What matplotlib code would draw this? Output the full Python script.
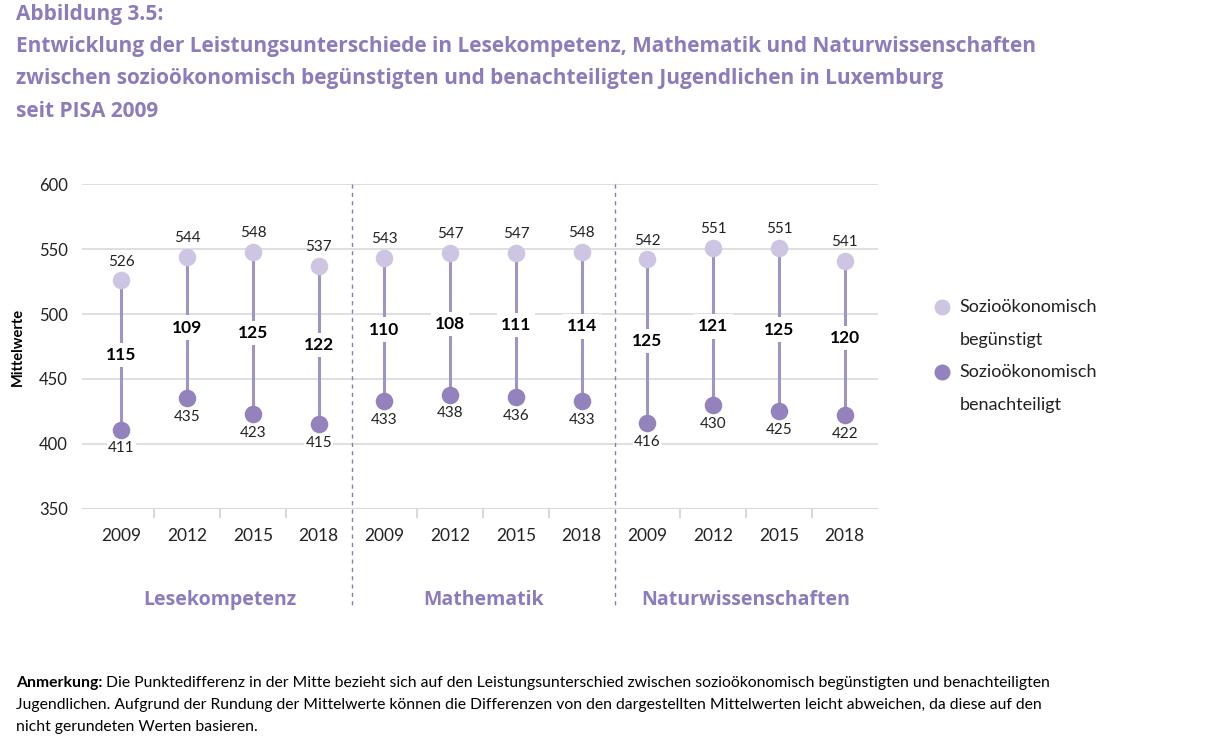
import numpy as np
import matplotlib.pyplot as plt
from matplotlib.lines import Line2D

# data
years = ["2009", "2012", "2015", "2018"]
domains = ["Lesekompetenz", "Mathematik", "Naturwissenschaften"]
advantaged = [526, 544, 548, 537, 543, 547, 547, 548, 542, 551, 551, 541]
disadvantaged = [411, 435, 423, 415, 433, 438, 436, 433, 416, 430, 425, 422]
gap = [115, 109, 125, 122, 110, 108, 111, 114, 125, 121, 125, 120]

purple = "#8c7bbd"
light = "#cdc5e2"
dark = "#9482bd"
stem = "#a093c8"
grid = "#d9d9d9"

plt.rcParams['font.family'] = ['Lato', 'DejaVu Sans']

fig = plt.figure(figsize=(12.24, 7.45), dpi=100)
ax = fig.add_axes([0.067, 0.3168, 0.65, 0.4362])

x = np.arange(len(advantaged))
ax.set_xlim(-0.6, 11.5)
ax.set_ylim(350, 600)

for yv in [400, 450, 500, 550, 600]:
    ax.axhline(yv, color=grid, lw=1.2, zorder=0)
ax.axhline(350, color=grid, lw=1.5, zorder=0)

ax.vlines(x, disadvantaged, advantaged, color=stem, lw=2.2, zorder=2)
ax.scatter(x, advantaged, s=160, color=light, zorder=3, lw=0)
ax.scatter(x, disadvantaged, s=160, color=dark, zorder=3, lw=0)

for i in x:
    ax.text(i, advantaged[i] + 9, str(advantaged[i]), ha='center', va='bottom',
            fontsize=11, color='#222222')
    ax.text(i, disadvantaged[i] - 9, str(disadvantaged[i]), ha='center', va='top',
            fontsize=11, color='#222222',
            bbox=dict(facecolor='white', edgecolor='none', pad=1))
    mid = (advantaged[i] + disadvantaged[i]) / 2
    ax.text(i, mid, str(gap[i]), ha='center', va='center', fontsize=12.5,
            fontweight='bold', color='black', zorder=4,
            bbox=dict(facecolor='white', edgecolor='none', pad=3))

# group dividers
for xd in [3.5, 7.5]:
    ax.add_line(Line2D([xd, xd], [600, 275], color=purple, lw=1, ls=(0, (3, 3)),
                       clip_on=False, zorder=1))

# small ticks between years
for xm in [0.5, 1.5, 2.5, 4.5, 5.5, 6.5, 8.5, 9.5, 10.5]:
    ax.add_line(Line2D([xm, xm], [350, 344], color=grid, lw=1.5, clip_on=False))

ax.set_xticks(x)
ax.set_xticklabels(years * 3, fontsize=12.5)
ax.set_yticks([350, 400, 450, 500, 550, 600])
ax.tick_params(axis='both', length=0, colors='#222222')
ax.tick_params(axis='y', labelsize=12, pad=10)
ax.tick_params(axis='x', pad=14)
for s in ax.spines.values():
    s.set_visible(False)

ax.set_ylabel("Mittelwerte", fontsize=10.5, fontweight='bold', labelpad=10)

for k, name in enumerate(domains):
    ax.text(4 * k + 1.5, 280, name, ha='center', va='center', fontsize=14,
            fontweight='bold', color=purple, family='Open Sans')

# legend
leg = [(light, "Sozioökonomisch", "begünstigt", 0.588),
       (dark, "Sozioökonomisch", "benachteiligt", 0.501)]
for c, l1, l2, yy in leg:
    fig.add_artist(Line2D([0.7695], [yy], marker='o', ms=10.5, color=c, lw=0))
    fig.text(0.784, yy, l1, fontsize=13, va='center', color='#222222')
    fig.text(0.784, yy - 0.044, l2, fontsize=13, va='center', color='#222222')

# title
fig.text(0.013, 0.980, "Abbildung 3.5:", fontsize=15, fontweight='bold',
         color=purple, va='center', family='Open Sans')
title_lines = ["Entwicklung der Leistungsunterschiede in Lesekompetenz, Mathematik und Naturwissenschaften",
               "zwischen sozioökonomisch begünstigten und benachteiligten Jugendlichen in Luxemburg",
               "seit PISA 2009"]
for j, t in enumerate(title_lines):
    fig.text(0.013, 0.938 - j * 0.0435, t, fontsize=15, fontweight='bold',
             color=purple, va='center', family='Open Sans')

# note
fig.canvas.draw()
r = fig.canvas.get_renderer()
lab = fig.text(0.013, 0.083, "Anmerkung:", fontsize=11.3, fontweight='bold', va='center')
bb = lab.get_window_extent(renderer=r)
x0 = (bb.x1 + 4) / fig.bbox.width
fig.text(x0, 0.083, "Die Punktedifferenz in der Mitte bezieht sich auf den Leistungsunterschied zwischen sozioökonomisch begünstigten und benachteiligten",
         fontsize=11.3, va='center')
fig.text(0.013, 0.054, "Jugendlichen. Aufgrund der Rundung der Mittelwerte können die Differenzen von den dargestellten Mittelwerten leicht abweichen, da diese auf den",
         fontsize=11.3, va='center')
fig.text(0.013, 0.024, "nicht gerundeten Werten basieren.", fontsize=11.3, va='center')

fig.savefig("out.png", dpi=100)
